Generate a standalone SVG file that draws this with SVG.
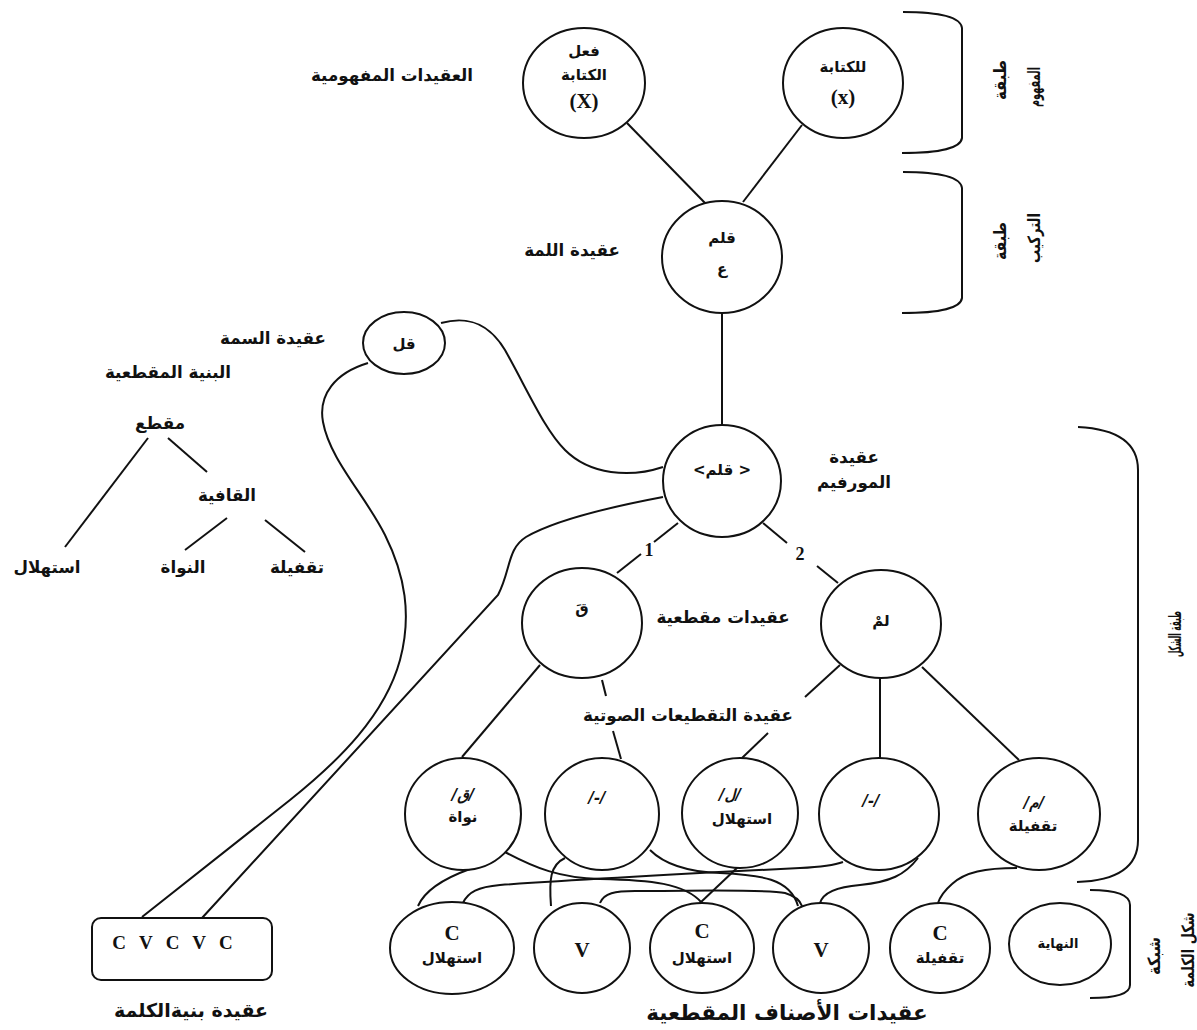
<svg xmlns="http://www.w3.org/2000/svg" width="1197" height="1030" viewBox="0 0 1197 1030">
  <style>
    .node { fill: #fff; stroke: #111; stroke-width: 2; }
    .edge { fill: none; stroke: #111; stroke-width: 2; }
    .ar { font-family: "DejaVu Sans", "Noto Sans", sans-serif; font-weight: bold; fill: #111; text-anchor: middle; }
    .lat { font-family: "Liberation Serif", "Times New Roman", serif; font-weight: bold; fill: #111; text-anchor: middle; }
    .lbl { font-size: 16.7px; }
    .in { font-size: 15px; }
    .sm { font-size: 13px; }
    .it { font-style: italic; }
  </style>
  <rect width="1197" height="1030" fill="#fff"/>

  <!-- connectors -->
  <g id="connectors">
    <line class="edge" x1="627" y1="123" x2="705" y2="203"/>
    <line class="edge" x1="802" y1="125" x2="743" y2="202"/>
    <line class="edge" x1="722" y1="313" x2="722" y2="425"/>
    <!-- morpheme to syllables -->
    <line class="edge" x1="678" y1="523" x2="654" y2="542"/>
    <line class="edge" x1="641" y1="554" x2="617" y2="573"/>
    <line class="edge" x1="763" y1="523" x2="787" y2="543"/>
    <line class="edge" x1="817" y1="566" x2="838" y2="583"/>
    <!-- syllables to segments -->
    <line class="edge" x1="540" y1="665" x2="462" y2="757"/>
    <line class="edge" x1="602" y1="680" x2="606" y2="696"/>
    <line class="edge" x1="613" y1="731" x2="621" y2="759"/>
    <line class="edge" x1="840" y1="665" x2="805" y2="697"/>
    <line class="edge" x1="768" y1="733" x2="742" y2="758"/>
    <line class="edge" x1="880" y1="678" x2="880" y2="758"/>
    <line class="edge" x1="922" y1="667" x2="1019" y2="760"/>
    <!-- segments to classes -->
    <path class="edge" d="M470,869 C445,878 425,890 418,906"/>
    <path class="edge" d="M565,858 C550,865 549,880 551,906"/>
    <line class="edge" x1="738" y1="867" x2="700" y2="903"/>
    <path class="edge" d="M918,858 C905,875 890,882 860,885 C835,887 823,893 820,903"/>
    <path class="edge" d="M1017,868 C985,868 965,872 952,884 C944,891 940,897 938,903"/>
    <path class="edge" d="M463,903 C468,892 478,887 500,885 C600,878 760,870 800,868 C820,867 835,865 843,862"/>
    <path class="edge" d="M505,852 C535,868 560,878 600,879 C650,880 685,883 702,903"/>
    <path class="edge" d="M650,850 C665,865 690,872 720,873 C760,875 790,878 798,906"/>
    <path class="edge" d="M600,903 C604,893 615,891 635,891 C700,891 765,889 785,893 C795,896 800,900 802,906"/>
    <!-- feature node and word-structure links -->
    <path class="edge" d="M441,323 C470,315 490,325 505,350 C530,395 545,430 565,450 C590,475 630,478 663,467"/>
    <path class="edge" d="M368,363 C335,373 318,395 323,422 C330,460 365,495 385,535 C405,575 412,615 400,660 C385,715 340,760 290,800 L142,917"/>
    <path class="edge" d="M663,497 C610,507 555,520 526,537 C507,549 511,570 498,595 L202,918"/>
    <!-- syllable structure tree -->
    <line class="edge" x1="148" y1="438" x2="65" y2="547"/>
    <line class="edge" x1="168" y1="438" x2="207" y2="472"/>
    <line class="edge" x1="227" y1="518" x2="185" y2="550"/>
    <line class="edge" x1="265" y1="520" x2="305" y2="552"/>
    <!-- layer brackets -->
    <path class="edge" d="M903,12 Q960,12 962,28 L962,138 Q960,153 902,153"/>
    <path class="edge" d="M903,172 Q960,172 962,188 L962,298 Q960,313 902,313"/>
    <path class="edge" d="M1078,427 Q1138,430 1138,470 L1138,840 Q1138,880 1077,882"/>
    <path class="edge" d="M1090,890 Q1130,890 1130,905 L1130,985 Q1130,998 1090,998"/>
  </g>

  <!-- concept layer -->
  <g id="concept-act">
    <ellipse class="node" cx="584" cy="83" rx="61" ry="55"/>
    <text class="ar in" x="584" y="56">فعل</text>
    <text class="ar in" x="584" y="80">الكتابة</text>
    <text class="lat" x="584" y="108" font-size="21">(X)</text>
  </g>
  <g id="concept-for">
    <ellipse class="node" cx="843" cy="83" rx="60" ry="55"/>
    <text class="ar in" x="843" y="72">للكتابة</text>
    <text class="lat" x="843" y="104" font-size="21">(x)</text>
  </g>
  <text class="ar lbl" x="392" y="81">العقيدات المفهومية</text>

  <!-- lemma -->
  <g id="lemma">
    <ellipse class="node" cx="722" cy="257" rx="60" ry="56"/>
    <text class="ar in" x="722" y="243">قلم</text>
    <text class="ar in" x="722" y="274">ع</text>
  </g>
  <text class="ar lbl" x="572" y="256">عقيدة اللمة</text>

  <!-- feature node -->
  <g id="feature">
    <ellipse class="node" cx="404" cy="343" rx="41" ry="31"/>
    <text class="ar in" x="404" y="349">قل</text>
  </g>
  <text class="ar lbl" x="273" y="344">عقيدة السمة</text>

  <!-- syllable structure -->
  <g id="syllable-structure">
    <text class="ar lbl" x="168" y="378">البنية المقطعية</text>
    <text class="ar lbl" x="160" y="429">مقطع</text>
    <text class="ar lbl" x="227" y="501">القافية</text>
    <text class="ar lbl" x="47" y="573">استهلال</text>
    <text class="ar lbl" x="183" y="573">النواة</text>
    <text class="ar lbl" x="297" y="573">تقفيلة</text>
  </g>

  <!-- morpheme -->
  <g id="morpheme">
    <ellipse class="node" cx="722" cy="481" rx="59" ry="56"/>
    <text class="ar in" x="722" y="475" direction="ltr">&lt;قلم &gt;</text>
  </g>
  <text class="ar lbl" x="854" y="463">عقيدة</text>
  <text class="ar lbl" x="854" y="488">المورفيم</text>
  <text class="lat" x="649" y="556" font-size="18">1</text>
  <text class="lat" x="800" y="560" font-size="18">2</text>

  <!-- syllables -->
  <g id="syllable-qa">
    <ellipse class="node" cx="582" cy="623" rx="60" ry="55"/>
    <text class="ar in" x="582" y="614">قَ</text>
  </g>
  <g id="syllable-lam">
    <ellipse class="node" cx="881" cy="624" rx="60" ry="54"/>
    <text class="ar in" x="881" y="626">لمْ</text>
  </g>
  <text class="ar lbl" x="723" y="623">عقيدات مقطعية</text>
  <text class="ar lbl" x="688" y="721">عقيدة التقطيعات الصوتية</text>

  <!-- segments -->
  <g id="seg-q">
    <ellipse class="node" cx="463" cy="814" rx="58" ry="56"/>
    <text class="ar in it" x="463" y="800">/ق/</text>
    <text class="ar in" x="463" y="822">نواة</text>
  </g>
  <g id="seg-a1">
    <ellipse class="node" cx="602" cy="814" rx="57" ry="56"/>
    <text class="ar in it" x="597" y="803">/-/</text>
  </g>
  <g id="seg-l">
    <ellipse class="node" cx="740" cy="813" rx="58" ry="55"/>
    <text class="ar in it" x="730" y="800">/ل/</text>
    <text class="ar in" x="742" y="824">استهلال</text>
  </g>
  <g id="seg-a2">
    <ellipse class="node" cx="879" cy="814" rx="60" ry="56"/>
    <text class="ar in it" x="871" y="806">/-/</text>
  </g>
  <g id="seg-m">
    <ellipse class="node" cx="1039" cy="814" rx="61" ry="56"/>
    <text class="ar in it" x="1034" y="808">/م/</text>
    <text class="ar in" x="1033" y="831">تقفيلة</text>
  </g>

  <!-- segment classes -->
  <g id="class-c1">
    <ellipse class="node" cx="452" cy="948" rx="62" ry="46"/>
    <text class="lat" x="452" y="940" font-size="21">C</text>
    <text class="ar in" x="452" y="963">استهلال</text>
  </g>
  <g id="class-v1">
    <ellipse class="node" cx="582" cy="948" rx="48" ry="45"/>
    <text class="lat" x="582" y="957" font-size="21">V</text>
  </g>
  <g id="class-c2">
    <ellipse class="node" cx="702" cy="948" rx="52" ry="45"/>
    <text class="lat" x="702" y="938" font-size="21">C</text>
    <text class="ar in" x="702" y="963">استهلال</text>
  </g>
  <g id="class-v2">
    <ellipse class="node" cx="821" cy="948" rx="48" ry="45"/>
    <text class="lat" x="821" y="957" font-size="21">V</text>
  </g>
  <g id="class-c3">
    <ellipse class="node" cx="940" cy="948" rx="50" ry="45"/>
    <text class="lat" x="940" y="940" font-size="21">C</text>
    <text class="ar in" x="940" y="963">تقفيلة</text>
  </g>
  <g id="class-end">
    <ellipse class="node" cx="1060" cy="944" rx="51" ry="41"/>
    <text class="ar sm" x="1058" y="948">النهاية</text>
  </g>
  <text class="ar" x="787" y="1020" font-size="21.5">عقيدات الأصناف المقطعية</text>

  <!-- word structure node -->
  <g id="word-structure">
    <rect class="node" x="92" y="918" width="180" height="62" rx="9"/>
    <text class="lat" x="179" y="949" font-size="19" letter-spacing="13">CVCVC</text>
  </g>
  <text class="ar" x="191" y="1017" font-size="19">عقيدة بنيةالكلمة</text>

  <!-- layer labels -->
  <g id="layer-labels" class="ar" font-size="17">
    <text transform="translate(1006,80) rotate(-90)" textLength="40" lengthAdjust="spacingAndGlyphs">طبقة</text>
    <text transform="translate(1040,87) rotate(-90)" textLength="40" lengthAdjust="spacingAndGlyphs">المفهوم</text>
    <text transform="translate(1006,241) rotate(-90)" textLength="38" lengthAdjust="spacingAndGlyphs">طبقة</text>
    <text transform="translate(1040,238) rotate(-90)" textLength="50" lengthAdjust="spacingAndGlyphs">التركيب</text>
    <text transform="translate(1181,634) rotate(-90)" textLength="46" lengthAdjust="spacingAndGlyphs">طبقة الشكل</text>
    <text transform="translate(1160,956) rotate(-90)" textLength="38" lengthAdjust="spacingAndGlyphs">شبكة</text>
    <text transform="translate(1194,950) rotate(-90)" textLength="75" lengthAdjust="spacingAndGlyphs">شكل الكلمة</text>
  </g>
</svg>
